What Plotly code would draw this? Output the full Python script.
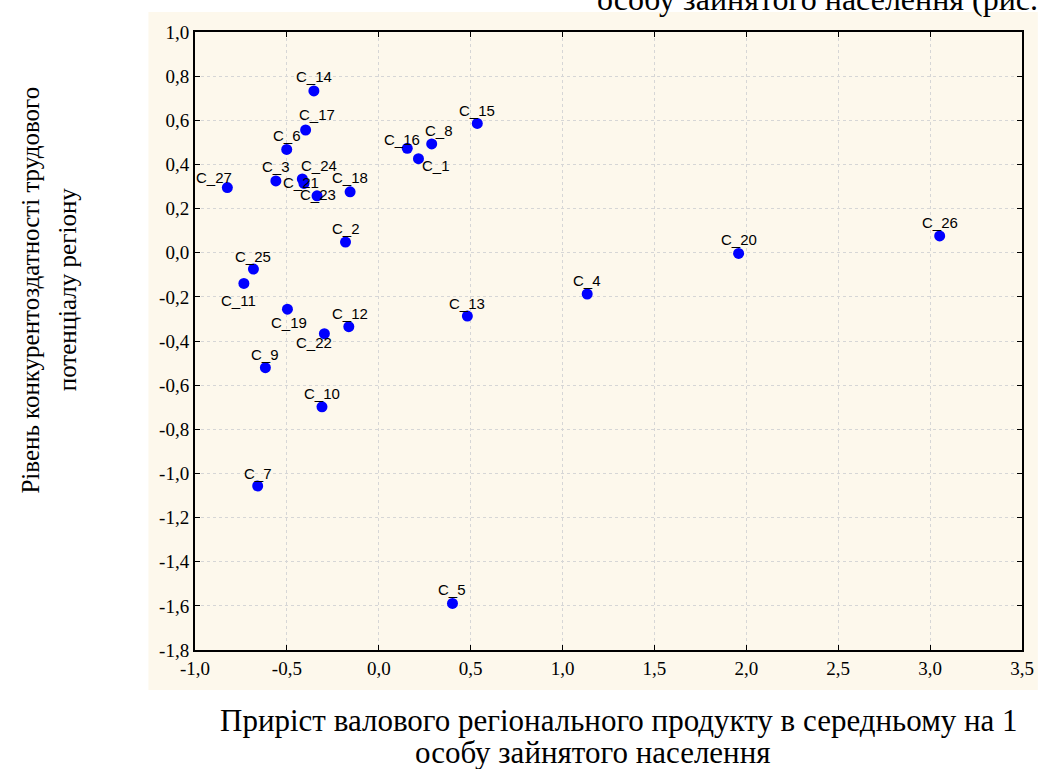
import plotly.graph_objects as go

names = ["C_1", "C_2", "C_3", "C_4", "C_5", "C_6", "C_7", "C_8", "C_9", "C_10",
         "C_11", "C_12", "C_13", "C_14", "C_15", "C_16", "C_17", "C_18", "C_19", "C_20",
         "C_21", "C_22", "C_23", "C_24", "C_25", "C_26", "C_27"]
x_vals = [0.216, -0.181, -0.560, 1.134, 0.401, -0.501, -0.659, 0.288, -0.617, -0.309,
          -0.734, -0.163, 0.482, -0.353, 0.536, 0.155, -0.398, -0.156, -0.497, 1.958,
          -0.407, -0.296, -0.336, -0.416, -0.682, 3.052, -0.824]
y_vals = [0.426, 0.048, 0.325, -0.187, -1.589, 0.468, -1.057, 0.493, -0.521, -0.698,
          -0.139, -0.335, -0.287, 0.733, 0.586, 0.473, 0.556, 0.276, -0.256, -0.003,
          0.314, -0.367, 0.258, 0.334, -0.074, 0.076, 0.295]
# label offsets from the marker centre (pixels: right, down)
label_dx = [18, 0, 0, 0, 0, 0, 0, 7, 0, 0,
            -5, 1, 0, 0, 0, -5, 11, 0, 2, 0,
            -3, -10, 1, 17, 0, 0, -13]
label_dy = [7, -14, -14, -13, -14, -14, -13, -13, -13, -13,
            17, -13, -13, -14, -13, -9, -16, -14, 13, -14,
            -1, 9, -1, -14, -13, -13, -10]

x_ticks = [-1.0, -0.5, 0.0, 0.5, 1.0, 1.5, 2.0, 2.5, 3.0, 3.5]
x_ticktext = ["-1,0", "-0,5", "0,0", "0,5", "1,0", "1,5", "2,0", "2,5", "3,0", "3,5"]
y_ticks = [1.0, 0.8, 0.6, 0.4, 0.2, 0.0, -0.2, -0.4, -0.6, -0.8, -1.0, -1.2, -1.4, -1.6, -1.8]
y_ticktext = ["1,0", "0,8", "0,6", "0,4", "0,2", "0,0", "-0,2", "-0,4", "-0,6", "-0,8",
              "-1,0", "-1,2", "-1,4", "-1,6", "-1,8"]

x_title_lines = ["Приріст валового регіонального продукту в середньому на 1",
                 "особу зайнятого населення"]
y_title_lines = ["Рівень конкурентоздатності трудового", "потенціалу регіону"]
top_text = "особу зайнятого населення (рис."

serif = "Liberation Serif"
sans = "Liberation Sans"

fig = go.Figure()
fig.add_trace(go.Scatter(
    x=x_vals, y=y_vals, mode="markers",
    marker=dict(color="#0000ff", size=11),
    cliponaxis=False, showlegend=False, hoverinfo="text", hovertext=names,
))

W, H = 1046, 769
ml, mr, mt, mb = 195, 16, 32, 119
pw, ph = W - ml - mr, H - mt - mb

def px_to_paper_x(px):
    return (px - ml) / pw

def px_to_paper_y(py):
    return (H - mb - py) / ph

tick_font = dict(family=serif, size=19, color="black")

def axis_style(vals, text, rng):
    return dict(
        range=rng, tickmode="array", tickvals=vals, ticktext=text,
        showline=True, linecolor="black", linewidth=2, mirror="ticks",
        ticks="inside", ticklen=5, tickwidth=1, tickcolor="black",
        showgrid=True, gridcolor="#d6d6d6", griddash="dot", gridwidth=1,
        zeroline=False, tickfont=tick_font,
    )

annotations = []
for n, xv, yv, dx, dy in zip(names, x_vals, y_vals, label_dx, label_dy):
    annotations.append(dict(
        text=n, x=xv, y=yv, xref="x", yref="y", showarrow=False,
        xanchor="center", yanchor="middle", xshift=dx, yshift=-dy,
        font=dict(family=sans, size=15, color="black"),
    ))

titles = [
    dict(text=x_title_lines[0], x=px_to_paper_x(623), y=px_to_paper_y(720), size=31),
    dict(text=x_title_lines[1], x=px_to_paper_x(597), y=px_to_paper_y(752), size=31),
    dict(text=y_title_lines[0], x=px_to_paper_x(28), y=px_to_paper_y(290), textangle=-90, size=25),
    dict(text=y_title_lines[1], x=px_to_paper_x(66), y=px_to_paper_y(290), textangle=-90, size=25),
    dict(text=top_text, x=px_to_paper_x(1048), y=px_to_paper_y(-1), xanchor="right", size=32),
]
for a in titles:
    size = a.pop("size")
    a.setdefault("xanchor", "center")
    a.update(xref="paper", yref="paper", yanchor="middle", showarrow=False,
             font=dict(family=serif, size=size, color="black"))
    annotations.append(a)

fig.update_layout(
    width=W, height=H, margin=dict(l=ml, r=mr, t=mt, b=mb),
    paper_bgcolor="white", plot_bgcolor="white",
    font=dict(family=serif, size=16, color="black"),
    xaxis=axis_style(x_ticks, x_ticktext, [-1.0, 3.5]),
    yaxis=axis_style(y_ticks, y_ticktext, [-1.8, 1.0]),
    annotations=annotations,
    shapes=[dict(type="rect", xref="paper", yref="paper",
                 x0=px_to_paper_x(148), x1=px_to_paper_x(1046),
                 y0=px_to_paper_y(690), y1=px_to_paper_y(12),
                 fillcolor="#fdf8ec", line=dict(width=0), layer="below")],
)

fig.write_html("out.html", config={"displayModeBar": False},
               post_script="document.body.style.margin='0';document.body.style.overflow='hidden';")
